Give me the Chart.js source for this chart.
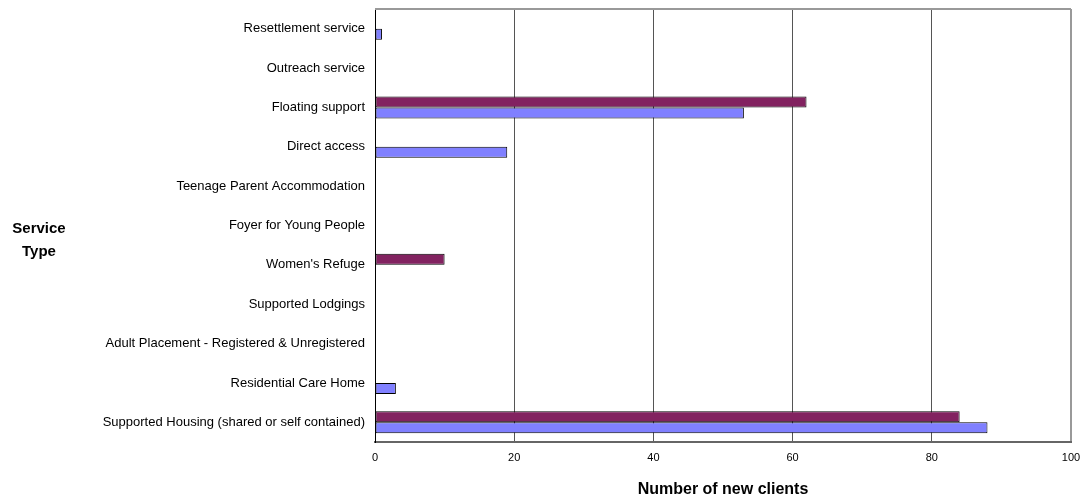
<!DOCTYPE html>
<html>
<head>
<meta charset="utf-8">
<script src="https://cdn.jsdelivr.net/npm/chart.js@4"></script>
<style>
  html, body { margin: 0; padding: 0; background: #fff; }
  #wrap { position: relative; width: 1081px; height: 498px; }
</style>
</head>
<body>
<div id="wrap"><canvas id="chart" width="1081" height="498"></canvas></div>
<script>
const categories = [
  'Resettlement service',
  'Outreach service',
  'Floating support',
  'Direct access',
  'Teenage Parent Accommodation',
  'Foyer for Young People',
  "Women's Refuge",
  'Supported Lodgings',
  'Adult Placement - Registered & Unregistered',
  'Residential Care Home',
  'Supported Housing (shared or self contained)'
];
const seriesA = [0, 0, 62, 0, 0, 0, 10, 0, 0, 0, 84];
const seriesB = [1, 0, 53, 19, 0, 0, 0, 0, 0, 3, 88];
const xTicks = [0, 20, 40, 60, 80, 100];

const FONT = "'Liberation Sans', Arial, sans-serif";

// top border of the plot plus the left-hand axis title
const extras = {
  id: 'extras',
  beforeDatasetsDraw(chart) {
    const { ctx, chartArea } = chart;
    ctx.save();
    ctx.strokeStyle = '#999';
    ctx.lineWidth = 2;
    ctx.beginPath();
    ctx.moveTo(chartArea.left, chartArea.top);
    ctx.lineTo(chartArea.right, chartArea.top);
    ctx.stroke();
    ctx.restore();
  },
  afterDraw(chart) {
    const ctx = chart.ctx;
    ctx.save();
    ctx.fillStyle = '#000';
    ctx.font = 'bold 15px ' + FONT;
    ctx.textAlign = 'center';
    ctx.textBaseline = 'alphabetic';
    ctx.fillText('Service', 39, 233);
    ctx.fillText('Type', 39, 256);
    ctx.restore();
  }
};

new Chart(document.getElementById('chart'), {
  type: 'bar',
  data: {
    labels: categories,
    datasets: [{
      data: seriesA,
      backgroundColor: '#822260',
      borderColor: '#000',
      borderWidth: 1,
      borderSkipped: false
    }, {
      data: seriesB,
      backgroundColor: '#8080FF',
      borderColor: '#000',
      borderWidth: 1,
      borderSkipped: false
    }]
  },
  options: {
    indexAxis: 'y',
    responsive: false,
    animation: false,
    categoryPercentage: 0.56,
    barPercentage: 1,
    layout: { padding: { top: 9, right: 10, left: 0, bottom: 0 } },
    plugins: {
      legend: { display: false },
      tooltip: { enabled: false }
    },
    scales: {
      x: {
        min: 0,
        max: 100,
        afterBuildTicks: scale => { scale.ticks = xTicks.map(v => ({ value: v })); },
        afterFit: scale => {
          scale.height = 56;
          scale.paddingLeft = 0;
          scale.paddingRight = 0;
        },
        ticks: {
          color: '#000',
          padding: 9,
          font: { family: FONT, size: 11 }
        },
        grid: {
          drawTicks: false,
          color: c => c.tick.value === 0 ? 'rgba(0,0,0,0)' : (c.tick.value === 100 ? '#999' : '#555'),
          lineWidth: c => c.tick.value === 100 ? 2 : 1
        },
        border: { color: '#666', width: 2 },
        title: {
          display: true,
          text: 'Number of new clients',
          color: '#000',
          padding: 0,
          font: { family: FONT, size: 16, weight: 'bold', lineHeight: 1.1 }
        }
      },
      y: {
        afterFit: scale => {
          scale.width = 375;
          scale.paddingTop = 0;
          scale.paddingBottom = 0;
        },
        ticks: {
          color: '#000',
          padding: 10,
          font: { family: FONT, size: 13 }
        },
        grid: { display: false, drawTicks: false },
        border: { color: '#000', width: 1 }
      }
    }
  },
  plugins: [extras]
});
</script>
</body>
</html>
